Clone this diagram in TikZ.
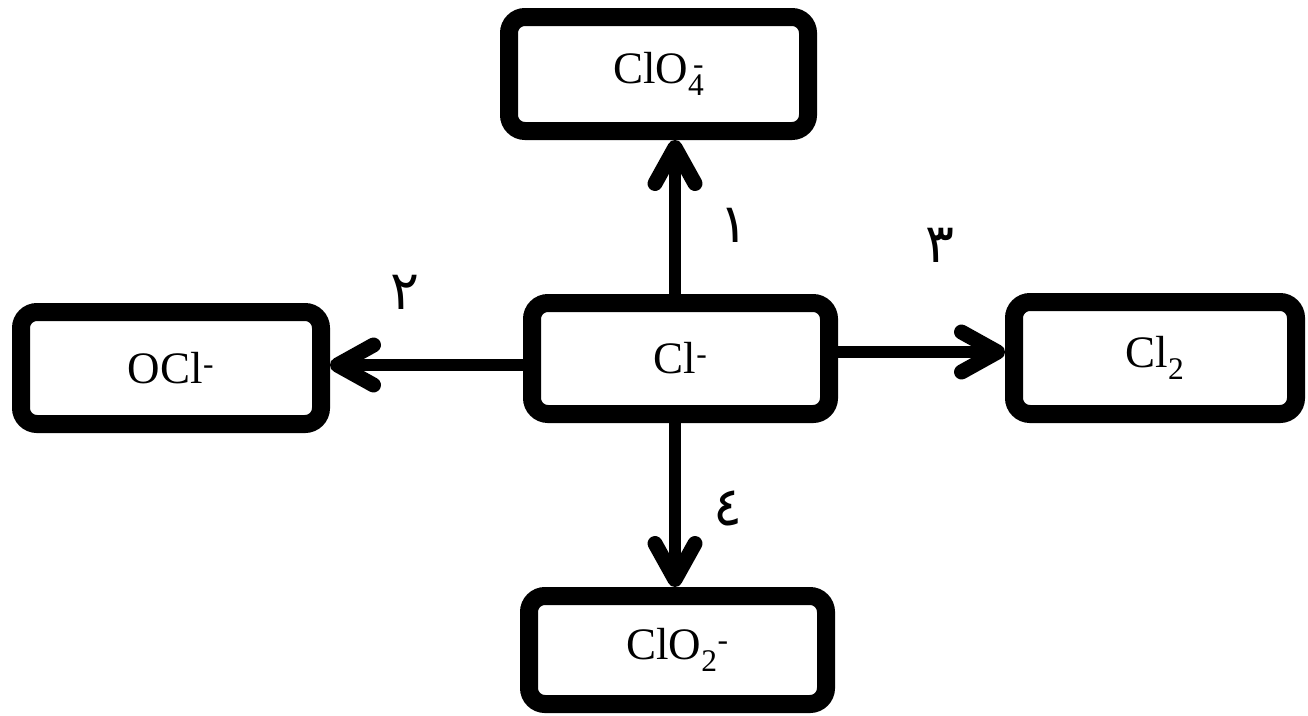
\documentclass[tikz,border=0pt]{standalone}
\usepackage{fontspec}
\setmainfont{Liberation Serif}
\newfontfamily\arabicfont[Script=Arabic]{DejaVu Sans}
\usetikzlibrary{arrows.meta}
\tikzset{
  box/.style={draw=black, line width=18pt, rounded corners=16pt, fill=white,
    inner sep=0pt, font=\fontsize{45}{54}\selectfont},
  conn/.style={line width=12pt, -{Straight Barb[length=36pt,width=40pt,line width=15pt,round]}},
  num/.style={font=\arabicfont\fontsize{54}{64}\selectfont, inner sep=0pt}
}
\begin{document}
\begin{tikzpicture}[x=1pt,y=-1pt]
\useasboundingbox[fill=white] (0,0) rectangle (1308,715);
\node[box, minimum width=299pt, minimum height=114pt] (top) at (658.5,74) {ClO\textsubscript{4}\kern-0.25em\textsuperscript{-}};
\node[box, minimum width=297pt, minimum height=111pt] (cl) at (680.5,358.5) {Cl\textsuperscript{-}};
\node[box, minimum width=300pt, minimum height=112pt] (ocl) at (171,368) {OCl\textsuperscript{-}};
\node[box, minimum width=282pt, minimum height=112pt] (cltwo) at (1155,358) {Cl\textsubscript{2}};
\node[box, minimum width=297pt, minimum height=108pt] (bot) at (677.5,650) {ClO\textsubscript{2}\textsuperscript{-}};
\coordinate (vx) at (675,0);
\coordinate (ly) at (0,365);
\coordinate (ry) at (0,352);
\draw[conn] (cl.north -| vx) -- (top.south -| vx);
\draw[conn] (cl.south -| vx) -- (bot.north -| vx);
\draw[conn] (cl.west |- ly) -- (ocl.east |- ly);
\draw[conn] (cl.east |- ry) -- (cltwo.west |- ry);
\node[num] (n1) at (734,225) {١};
\node[num] (n2) at (405,292) {٢};
\node[num] (n3) at (940,245) {٣};
\node[num] (n4) at (728,508) {٤};
\end{tikzpicture}
\end{document}
